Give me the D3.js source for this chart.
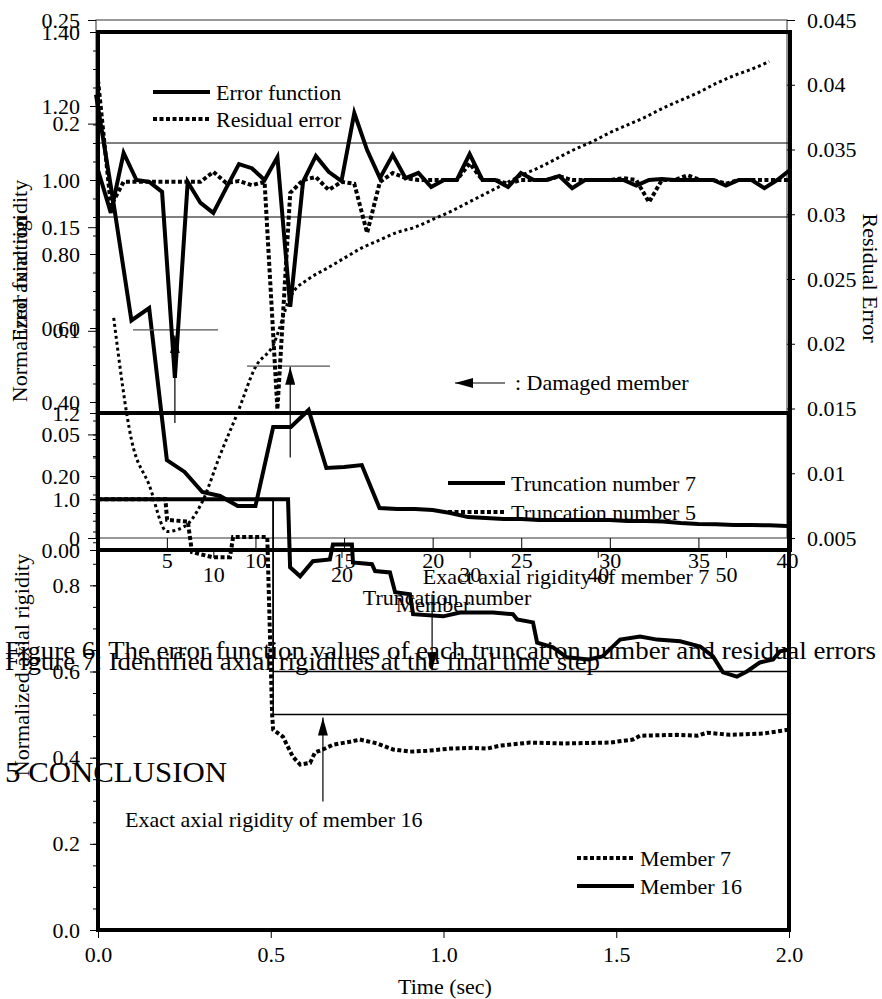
<!DOCTYPE html>
<html>
<head>
<meta charset="utf-8">
<script src="https://cdn.jsdelivr.net/npm/d3@7"></script>
<style>
  body { margin: 0; background: #fff; }
  svg text { font-family: "Liberation Serif", "Times New Roman", serif; fill: #000; }
</style>
</head>
<body>
<div id="page"></div>
<script>
// Three overlapping figures from a scanned paper page:
// Fig 6 (error function / residual error), Fig 7 (identified rigidities), time history plot

// ---- Figure 6 data: error function and residual error per truncation number
var truncNumbers = [1,2,3,4,5,6,7,8,9,10,11,12,13,14,15,16,17,18,19,20,
                    21,22,23,24,25,26,27,28,29,30,31,32,33,34,35,36,37,38,39,40];
var errorFunction = [0.214,0.161,0.105,0.111,0.0376,0.0319,0.0222,0.0203,0.0154,0.0154,
                     0.0536,0.0536,0.0618,0.0338,0.0343,0.0352,0.0145,0.0140,0.0140,0.0135,
                     0.0121,0.0101,0.0097,0.0092,0.0092,0.0087,0.0087,0.0087,0.0087,0.0087,
                     0.0082,0.0082,0.0080,0.0072,0.0068,0.0066,0.0063,0.0063,0.0061,0.0058];
var residualTrunc = [2,3,4,5,6,7,8,9,10,11,12,13,14,15,16,17,18,19,20,
                     21,22,23,24,25,26,27,28,29,30,31,32,33,34,35,36,37,38,39];
var residualError = [0.0220,0.0126,0.0091,0.0055,0.0059,0.0078,0.0114,0.0147,0.0182,0.0199,
                     0.0237,0.0250,0.0258,0.0266,0.0274,0.0280,0.0286,0.0290,0.0296,0.0302,
                     0.0309,0.0316,0.0323,0.0330,0.0336,0.0343,0.0350,0.0356,0.0363,0.0369,
                     0.0375,0.0382,0.0388,0.0394,0.0401,0.0407,0.0412,0.0418];
var errorTicks = [0, 0.05, 0.1, 0.15, 0.2, 0.25];
var errorTickLabels = ["0", "0.05", "0.1", "0.15", "0.2", "0.25"];
var residualTicks = [0.005, 0.01, 0.015, 0.02, 0.025, 0.03, 0.035, 0.04, 0.045];
var residualTickLabels = ["0.005", "0.01", "0.015", "0.02", "0.025", "0.03", "0.035", "0.04", "0.045"];
var truncTicks = [5, 10, 15, 20, 25, 30, 35, 40];

// ---- Figure 7 data: normalized axial rigidity per member at final step
var members = [1,2,3,4,5,6,7,8,9,10,11,12,13,14,15,16,17,18,19,20,
               21,22,23,24,25,26,27,28,29,30,31,32,33,34,35,36,37,38,39,40,
               41,42,43,44,45,46,47,48,49,50,51,52,53,54,55];
var truncation7 = [1.027,0.911,1.073,1.0,0.995,0.968,0.465,0.995,0.938,0.911,
                   0.978,1.043,1.032,1.0,1.062,0.657,0.995,1.065,1.022,0.997,
                   1.181,1.081,1.005,1.068,1.005,1.019,0.981,1.0,1.0,1.07,
                   1.0,1.0,0.981,1.019,1.0,1.0,1.011,0.978,1.0,1.0,
                   1.0,1.0,0.985,1.0,1.003,1.0,1.0,1.0,1.0,0.985,
                   1.0,1.0,0.978,1.0,1.027];
var truncation5 = [1.27,0.93,0.995,0.995,0.995,0.995,0.995,0.995,0.995,1.022,
                   0.992,0.997,0.986,0.995,0.38,0.965,1.0,1.008,0.973,0.995,
                   0.99,0.857,0.995,1.019,1.005,1.0,1.0,1.0,1.0,1.045,
                   1.0,1.0,0.99,1.0,1.0,1.0,1.01,1.0,1.0,1.0,
                   1.0,1.005,1.0,0.94,1.0,1.0,1.013,1.0,1.0,0.99,
                   1.0,1.0,1.0,1.0,1.0];
var rigidityTicks = [0, 0.2, 0.4, 0.6, 0.8, 1.0, 1.2, 1.4];
var rigidityTickLabels = ["0.00", "0.20", "0.40", "0.60", "0.80", "1.00", "1.20", "1.40"];
var memberTicks = [10, 20, 30, 40, 50];
var boundLevels = [0.9, 1.1];
// damaged members: arrow from tail to tip, and short exact-value bars
var damagedMembers = [7, 16];
var damageArrowTail = [0.343, 0.25];
var damageArrowTip = [0.58, 0.495];
var damageBarStart = [3.73, 12.63];
var damageBarEnd = [10.37, 19.1];
var damageBarLevel = [0.595, 0.497];

// ---- Time history data: identified rigidity of members 7 and 16
var member7Time = [0,0.195,0.2,0.26,0.272,0.333,0.382,0.391,0.49,0.504,
                   0.507,0.535,0.564,0.585,0.614,0.628,0.651,0.68,0.729,0.758,
                   0.808,0.854,0.903,0.952,1.019,1.085,1.126,1.164,1.25,1.346,
                   1.482,1.548,1.569,1.676,1.734,1.763,1.829,1.925,2.0];
var member7Value = [1.0,1.0,0.952,0.948,0.877,0.865,0.865,0.912,0.912,0.5,
                    0.465,0.449,0.402,0.384,0.388,0.412,0.419,0.430,0.437,0.442,
                    0.433,0.419,0.414,0.416,0.421,0.423,0.421,0.428,0.435,0.433,
                    0.435,0.442,0.451,0.453,0.451,0.458,0.453,0.456,0.465];
var member16Time = [0,0.55,0.556,0.585,0.622,0.671,0.68,0.735,0.738,0.793,
                    0.802,0.845,0.86,0.903,0.912,0.999,1.048,1.143,1.201,1.213,
                    1.259,1.271,1.317,1.357,1.42,1.46,1.511,1.569,1.618,1.685,
                    1.743,1.78,1.809,1.849,1.878,1.916,1.954,1.974,2.0];
var member16Value = [1.0,1.0,0.842,0.821,0.856,0.86,0.895,0.895,0.853,0.849,
                     0.833,0.83,0.784,0.779,0.733,0.728,0.737,0.737,0.733,0.721,
                     0.714,0.667,0.656,0.633,0.628,0.635,0.674,0.681,0.674,0.67,
                     0.658,0.635,0.598,0.588,0.6,0.621,0.628,0.647,0.651];
var exactTime = [0, 0.507, 0.507, 2.0];
var exactMember7 = [1.0, 1.0, 0.6, 0.6];
var exactMember16 = [1.0, 1.0, 0.5, 0.5];
var timeTicks = [0, 0.5, 1.0, 1.5, 2.0];
var timeTickLabels = ["0.0", "0.5", "1.0", "1.5", "2.0"];
var timeValueTicks = [0, 0.2, 0.4, 0.6, 0.8, 1.0, 1.2];
var timeValueTickLabels = ["0.0", "0.2", "0.4", "0.6", "0.8", "1.0", "1.2"];

var FONT = "Liberation Serif, Times New Roman, serif";

var svg = d3.select("#page").append("svg")
	.attr("width", 882)
	.attr("height", 999);

svg.append("defs").append("marker")
	.attr("id", "arrow")
	.attr("viewBox", "0 -5 18 10")
	.attr("refX", 18)
	.attr("refY", 0)
	.attr("markerUnits", "userSpaceOnUse")
	.attr("markerWidth", 18)
	.attr("markerHeight", 10)
	.attr("orient", "auto")
  .append("path")
	.attr("d", "M0,-5L18,0L0,5Z")
	.attr("fill", "#000");

// scales
var xTrunc = d3.scaleLinear().domain([1, 40]).range([96, 787]);
var yError = d3.scaleLinear().domain([0, 0.25]).range([538, 20]);
var yResidual = d3.scaleLinear().domain([0.005, 0.045]).range([538, 20]);

var xMember = d3.scaleLinear().domain([1, 55]).range([98, 790]);
var yRigidity = d3.scaleLinear().domain([0, 1.4]).range([550, 32]);

var xTime = d3.scaleLinear().domain([0, 2]).range([98, 789]);
var yTime = d3.scaleLinear().domain([0, 1.2]).range([930, 413]);

function pairs(xs, ys) {
	return xs.map(function(d, i) { return [d, ys[i]]; });
}

function styleAxis(g) {
	g.attr("font-family", FONT).attr("font-size", 22);
	g.select(".domain").remove();
	g.selectAll(".tick line").attr("stroke", "#000");
}

function drawLine(xs, ys, xScale, yScale, width, dash, curve) {
	var line = d3.line()
		.x(function(d) { return xScale(d[0]); })
		.y(function(d) { return yScale(d[1]); })
		.curve(curve || d3.curveLinear);
	svg.append("path")
		.datum(pairs(xs, ys))
		.attr("fill", "none")
		.attr("stroke", "#000")
		.attr("stroke-width", width)
		.attr("stroke-dasharray", dash)
		.attr("d", line);
}

function legendRow(x, y, label, width, dash) {
	svg.append("line")
		.attr("x1", x).attr("x2", x + 57)
		.attr("y1", y).attr("y2", y)
		.attr("stroke", "#000")
		.attr("stroke-width", width)
		.attr("stroke-dasharray", dash);
	svg.append("text")
		.attr("x", x + 63)
		.attr("y", y + 8)
		.style("font-size", "22px")
		.text(label);
}

function verticalLabel(x, y, angle, label) {
	svg.append("text")
		.attr("transform", "translate(" + x + "," + y + ") rotate(" + angle + ")")
		.attr("text-anchor", "middle")
		.style("font-size", "22px")
		.text(label);
}

// ================= Figure 6 =================
svg.append("rect")
	.attr("x", xTrunc(1)).attr("y", yError(0.25))
	.attr("width", xTrunc(40) - xTrunc(1))
	.attr("height", yError(0) - yError(0.25))
	.attr("fill", "none")
	.attr("stroke", "#333")
	.attr("stroke-width", 1);

svg.append("g")
	.attr("transform", "translate(" + xTrunc(1) + ",0)")
	.call(d3.axisLeft(yError).tickValues(errorTicks)
		.tickFormat(function(d, i) { return errorTickLabels[i]; })
		.tickSize(8).tickPadding(8))
	.call(styleAxis);

svg.append("g")
	.attr("transform", "translate(" + xTrunc(40) + ",0)")
	.call(d3.axisRight(yResidual).tickValues(residualTicks)
		.tickFormat(function(d, i) { return residualTickLabels[i]; })
		.tickSize(8).tickPadding(12))
	.call(styleAxis);

svg.append("g")
	.attr("transform", "translate(0," + yError(0) + ")")
	.call(d3.axisBottom(xTrunc).tickValues(truncTicks).tickSize(10).tickPadding(4))
	.call(styleAxis);

drawLine(residualTrunc, residualError, xTrunc, yResidual, 3, "3,3", d3.curveMonotoneX);
drawLine(truncNumbers, errorFunction, xTrunc, yError, 4, null);

legendRow(153, 92, "Error function", 4, null);
legendRow(153, 119, "Residual error", 4, "4,2.5");

verticalLabel(27, 279, -90, "Error function");
verticalLabel(863, 278, 90, "Residual Error");
svg.append("text")
	.attr("x", 447).attr("y", 605)
	.attr("text-anchor", "middle")
	.style("font-size", "22px")
	.text("Truncation number");

// ================= Figure 7 =================
svg.append("g")
	.attr("transform", "translate(" + xMember(1) + ",0)")
	.call(d3.axisLeft(yRigidity).tickValues(d3.range(0, 1.41, 0.05)).tickSize(5).tickFormat(""))
	.call(styleAxis);
svg.append("g")
	.attr("transform", "translate(" + xMember(1) + ",0)")
	.call(d3.axisLeft(yRigidity).tickValues(rigidityTicks)
		.tickFormat(function(d, i) { return rigidityTickLabels[i]; })
		.tickSize(8).tickPadding(10))
	.call(styleAxis);

svg.append("g")
	.attr("transform", "translate(0," + yRigidity(0) + ")")
	.call(d3.axisBottom(xMember).tickValues(memberTicks).tickSize(8).tickPadding(8))
	.call(styleAxis);

svg.selectAll(".bound")
	.data(boundLevels)
  .enter().append("line")
	.attr("x1", xMember(1)).attr("x2", xMember(55))
	.attr("y1", function(d) { return yRigidity(d); })
	.attr("y2", function(d) { return yRigidity(d); })
	.attr("stroke", "#000")
	.attr("stroke-width", 1);

svg.selectAll(".damageBar")
	.data(damageBarLevel)
  .enter().append("line")
	.attr("x1", function(d, i) { return xMember(damageBarStart[i]); })
	.attr("x2", function(d, i) { return xMember(damageBarEnd[i]); })
	.attr("y1", function(d) { return yRigidity(d); })
	.attr("y2", function(d) { return yRigidity(d); })
	.attr("stroke", "#555")
	.attr("stroke-width", 1.2);

drawLine(members, truncation5, xMember, yRigidity, 4, "4,2.5");
drawLine(members, truncation7, xMember, yRigidity, 4, null);

svg.selectAll(".damageArrow")
	.data(damagedMembers)
  .enter().append("line")
	.attr("x1", function(d) { return xMember(d); })
	.attr("x2", function(d) { return xMember(d); })
	.attr("y1", function(d, i) { return yRigidity(damageArrowTail[i]); })
	.attr("y2", function(d, i) { return yRigidity(damageArrowTip[i]); })
	.attr("stroke", "#000")
	.attr("stroke-width", 1.2)
	.attr("marker-end", "url(#arrow)");

svg.append("rect")
	.attr("x", xMember(1)).attr("y", yRigidity(1.4))
	.attr("width", xMember(55) - xMember(1))
	.attr("height", yRigidity(0) - yRigidity(1.4))
	.attr("fill", "none")
	.attr("stroke", "#000")
	.attr("stroke-width", 4);

// damaged member key
svg.append("line")
	.attr("x1", 505).attr("x2", 455)
	.attr("y1", 383).attr("y2", 383)
	.attr("stroke", "#000")
	.attr("stroke-width", 1.2)
	.attr("marker-end", "url(#arrow)");
svg.append("text")
	.attr("x", 515).attr("y", 390)
	.style("font-size", "22px")
	.text(": Damaged member");

legendRow(448, 483, "Truncation number 7", 4, null);
legendRow(448, 512, "Truncation number 5", 4, "4,2.5");

verticalLabel(27, 291, -90, "Normalized axial rigidity");
svg.append("text")
	.attr("x", 433).attr("y", 612)
	.attr("text-anchor", "middle")
	.style("font-size", "22px")
	.text("Member");

// ================= Time history =================
svg.append("g")
	.attr("transform", "translate(" + xTime(0) + ",0)")
	.call(d3.axisLeft(yTime).tickValues(d3.range(0, 1.21, 0.05)).tickSize(5).tickFormat(""))
	.call(styleAxis);
svg.append("g")
	.attr("transform", "translate(" + xTime(0) + ",0)")
	.call(d3.axisLeft(yTime).tickValues(timeValueTicks)
		.tickFormat(function(d, i) { return timeValueTickLabels[i]; })
		.tickSize(8).tickPadding(10))
	.call(styleAxis);
svg.append("g")
	.attr("transform", "translate(0," + yTime(0) + ")")
	.call(d3.axisBottom(xTime).tickValues(timeTicks)
		.tickFormat(function(d, i) { return timeTickLabels[i]; })
		.tickSize(8).tickPadding(8))
	.call(styleAxis);

drawLine(exactTime, exactMember7, xTime, yTime, 1.5, null);
drawLine(exactTime, exactMember16, xTime, yTime, 1.5, null);
drawLine(member7Time, member7Value, xTime, yTime, 4, "4,2.5");
drawLine(member16Time, member16Value, xTime, yTime, 4, null);

svg.append("rect")
	.attr("x", xTime(0)).attr("y", yTime(1.2))
	.attr("width", xTime(2) - xTime(0))
	.attr("height", yTime(0) - yTime(1.2))
	.attr("fill", "none")
	.attr("stroke", "#000")
	.attr("stroke-width", 4);

// exact value annotations
svg.append("line")
	.attr("x1", xTime(0.651)).attr("x2", xTime(0.651))
	.attr("y1", yTime(0.298)).attr("y2", yTime(0.493))
	.attr("stroke", "#000").attr("stroke-width", 1.2)
	.attr("marker-end", "url(#arrow)");
svg.append("text")
	.attr("x", xTime(0.078)).attr("y", yTime(0.24))
	.style("font-size", "22px")
	.text("Exact axial rigidity of member 16");
svg.append("line")
	.attr("x1", xTime(0.967)).attr("x2", xTime(0.967))
	.attr("y1", yTime(0.779)).attr("y2", yTime(0.603))
	.attr("stroke", "#000").attr("stroke-width", 1.2)
	.attr("marker-end", "url(#arrow)");
svg.append("text")
	.attr("x", xTime(0.94)).attr("y", yTime(0.804))
	.style("font-size", "22px")
	.text("Exact axial rigidity of member 7");

legendRow(577, 858, "Member 7", 4, "4,2.5");
legendRow(577, 886, "Member 16", 4, null);

verticalLabel(29, 665, -90, "Normalized axial rigidity");
svg.append("text")
	.attr("x", 445).attr("y", 994)
	.attr("text-anchor", "middle")
	.style("font-size", "22px")
	.text("Time (sec)");

// ================= page text =================
svg.append("text")
	.attr("x", 5).attr("y", 659)
	.attr("textLength", 871).attr("lengthAdjust", "spacingAndGlyphs")
	.style("font-size", "25px")
	.text("Figure 6. The error function values of each truncation number and residual errors");
svg.append("text")
	.attr("x", 5).attr("y", 670)
	.attr("textLength", 595).attr("lengthAdjust", "spacingAndGlyphs")
	.style("font-size", "25px")
	.text("Figure 7. Identified axial rigidities at the final time step");
svg.append("text")
	.attr("x", 5).attr("y", 782)
	.attr("textLength", 222).attr("lengthAdjust", "spacingAndGlyphs")
	.style("font-size", "30px")
	.text("5 CONCLUSION");
</script>
</body>
</html>
